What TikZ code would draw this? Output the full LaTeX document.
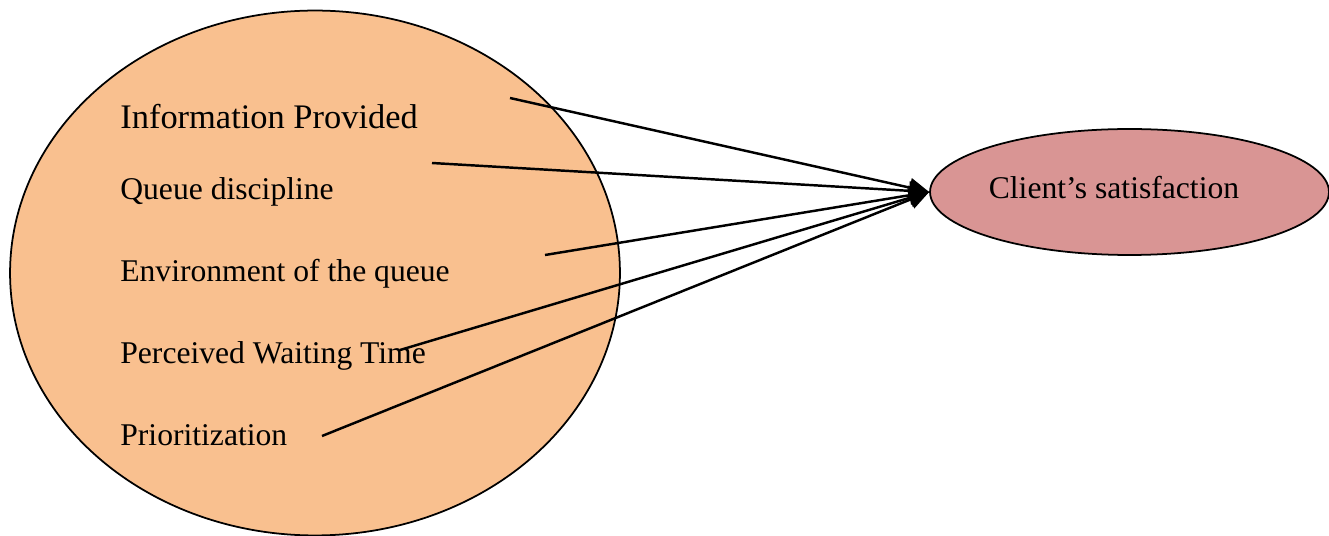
\documentclass[tikz,border=0pt]{standalone}
\usepackage{fontspec}
\setmainfont{Liberation Serif}
\usetikzlibrary{arrows.meta,positioning,shapes.geometric}
\definecolor{peach}{HTML}{F9C08F}
\definecolor{rose}{HTML}{D99594}
\tikzset{
  arr/.style={-{Triangle[length=4mm,width=3.8mm]}, line width=1.4pt, draw=black},
  blob/.style={ellipse, draw=black, line width=1pt, inner sep=0pt},
  factor/.style={anchor=base west, inner sep=0pt, font=\fontsize{18}{21}\selectfont},
}

\begin{document}
\begin{tikzpicture}[x=0.02cm, y=-0.02cm]
  \useasboundingbox (0,0) rectangle (1329,536);
  \node[blob, fill=peach, minimum width=12.2cm, minimum height=10.5cm] (factors) at (315,273) {};
  \node[blob, fill=rose, minimum width=7.98cm, minimum height=2.52cm] (cs) at (1129.5,192) {};
  \node[font=\fontsize{18}{21}\selectfont, anchor=base, inner sep=0pt] (cslab) at (1114,199) {Client’s satisfaction};

  \node[factor, font=\fontsize{19.6}{23}\selectfont] (info) at (120,129) {Information Provided};
  \node[factor] (disc) at (120,200) {Queue discipline};
  \node[factor] (env) at (120,282) {Environment of the queue};
  \node[factor] (wait) at (120,364) {Perceived Waiting Time};
  \node[factor] (prio) at (120,446) {Prioritization};

  \coordinate (s1) at (510,98);
  \coordinate (s2) at (432,163);
  \coordinate (s3) at (545,255);
  \coordinate (s4) at (400,350);
  \coordinate (s5) at (322,436);

  \foreach \s in {s1,s2,s3,s4,s5}
    \draw[arr] (\s) -- (cs.west);
\end{tikzpicture}
\end{document}
